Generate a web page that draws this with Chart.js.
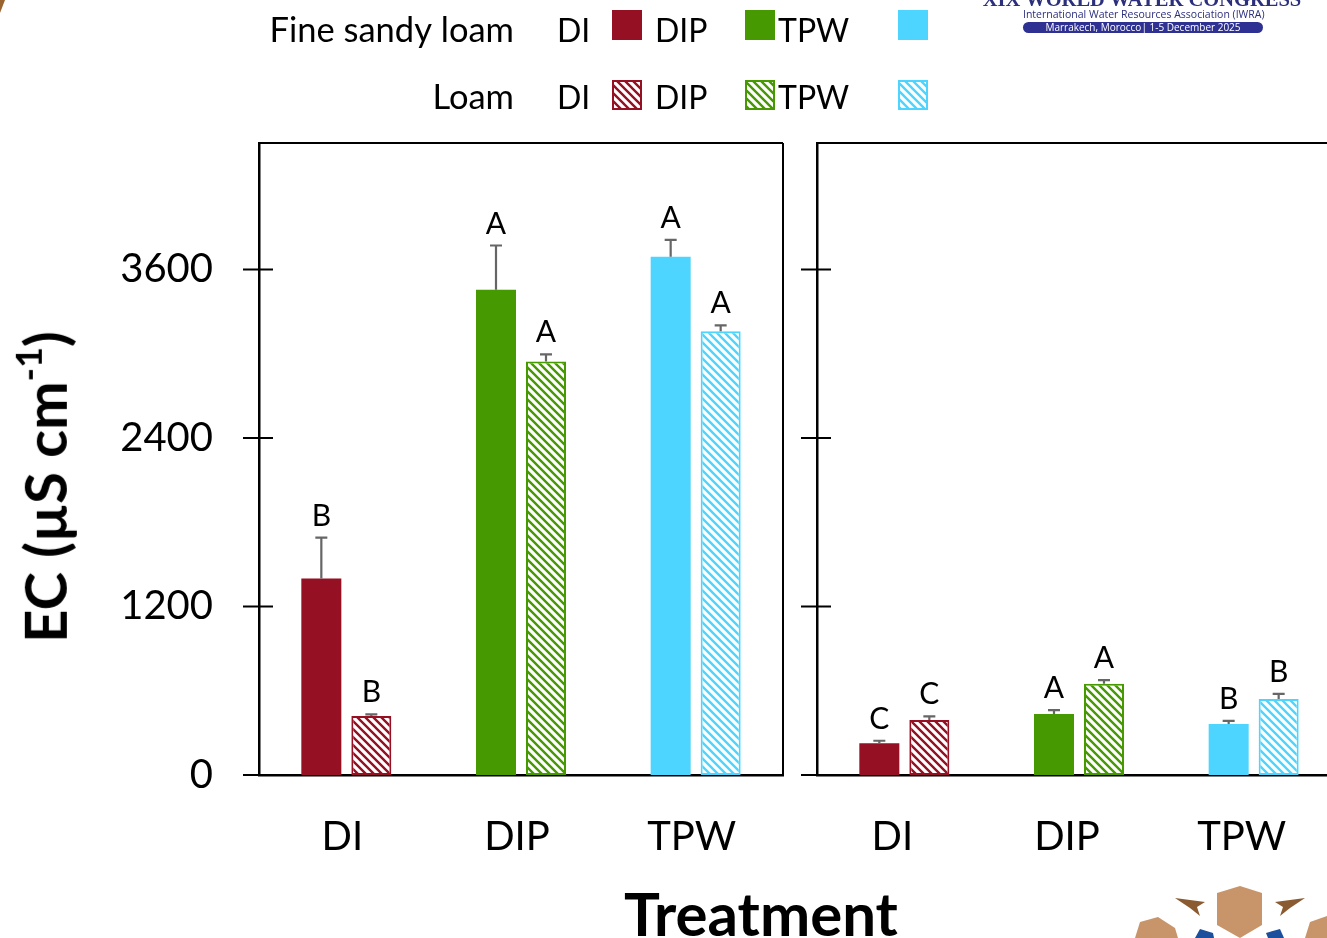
<!DOCTYPE html>
<html>
<head>
<meta charset="utf-8">
<script src="https://cdn.jsdelivr.net/npm/chart.js@4.4.1/dist/chart.umd.min.js"></script>
<style>
  html, body { margin: 0; padding: 0; background: #fff; }
  #page { position: relative; width: 1327px; height: 938px; overflow: hidden; font-family: Lato, "Noto Sans", sans-serif; }
  canvas { position: absolute; top: 0; }
  #left { left: 0; }
  #right { left: 790px; }
  .ytitle { position: absolute; left: 45px; top: 487px; transform: translate(-50%, -50%) rotate(-90deg);
            white-space: nowrap; font-weight: 700; font-size: 58px; color: #000; line-height: 1; }
  .ytitle sup { font-size: 0.62em; position: relative; top: -0.15em; }
  .xtitle { position: absolute; left: 761px; top: 883px; transform: translateX(-50%); white-space: nowrap;
            font-weight: 700; font-size: 60px; line-height: 1; color: #000; }
  .logo1 { position: absolute; left: 977px; top: -12px; width: 330px; text-align: center; white-space: nowrap;
           font-family: "Liberation Serif", serif; font-weight: 700; font-size: 20.5px; color: #2b2f7c; }
  .logo2 { position: absolute; left: 1023px; top: 9px; width: 240px; text-align: center; white-space: nowrap;
           font-family: "Open Sans", sans-serif; font-size: 10.5px; color: #2b2f7c; line-height: 1; }
  .logo3 { position: absolute; left: 1023px; top: 22px; width: 240px; height: 11px; border-radius: 6px; background: #2e3192;
           text-align: center; white-space: nowrap; font-family: "Open Sans", sans-serif; font-size: 10px; color: #fff; line-height: 11px; }
  svg.deco { position: absolute; left: 0; top: 0; }
</style>
</head>
<body>
<div id="page">
  <canvas id="left" width="1327" height="938"></canvas>
  <canvas id="right" width="560" height="938"></canvas>
  <div class="ytitle">EC (µS cm<sup>-1</sup>)</div>
  <div class="xtitle">Treatment</div>
  <div class="logo1">XIX WORLD WATER CONGRESS</div>
  <div class="logo2">International Water Resources Association (IWRA)</div>
  <div class="logo3">Marrakech, Morocco| 1-5 December 2025</div>
  <svg class="deco" width="1327" height="938">
    <polygon points="0,0 5,0 0,13" fill="#9a6431"/>
    <polygon points="1217,893 1240,886 1262,893 1262,925 1240,938 1217,925" fill="#c8956a"/>
    <polygon points="1175,898 1205,902 1197,907 1200,916 1190,908" fill="#8a5a30"/>
    <polygon points="1305,898 1275,902 1283,907 1280,916 1290,908" fill="#8a5a30"/>
    <polygon points="1135,938 1140,922 1158,917 1175,928 1178,938" fill="#c8956a"/>
    <polygon points="1305,938 1310,922 1327,916 1327,938" fill="#c8956a"/>
    <polygon points="1195,938 1200,929 1213,933 1214,938" fill="#1c4f9c"/>
    <polygon points="1268,938 1266,933 1280,929 1284,938" fill="#1c4f9c"/>
  </svg>
</div>
<script>
// Treatments on the x axis and the y tick values
const treatments = ['DI', 'DIP', 'TPW'];
const yTicks = [0, 1200, 2400, 3600];
const yMax = 4500;

// Soil textures shown in the legend
const soilTypes = ['Fine sandy loam', 'Loam'];

// Left panel: mean EC, standard error and significance letters
const leftFineSandy    = [1400, 3455, 3690];
const leftFineSandyErr = [290, 315, 120];
const leftFineSandySig = ['B', 'A', 'A'];
const leftLoam         = [420, 2945, 3160];
const leftLoamErr      = [12, 50, 42];
const leftLoamSig      = ['B', 'A', 'A'];

// Right panel
const rightFineSandy    = [226, 434, 363];
const rightFineSandyErr = [18, 28, 23];
const rightFineSandySig = ['C', 'A', 'B'];
const rightLoam         = [391, 650, 541];
const rightLoamErr      = [26, 26, 37];
const rightLoamSig      = ['C', 'A', 'B'];

// Treatment colours
const treatmentColors = ['#941022', '#469900', '#4dd5ff'];

function hatch(color) {
  const s = 8;
  const c = document.createElement('canvas');
  c.width = s; c.height = s;
  const g = c.getContext('2d');
  g.fillStyle = '#fff';
  g.fillRect(0, 0, s, s);
  g.strokeStyle = color;
  g.lineWidth = 2.4;
  g.beginPath();
  g.moveTo(-2, -2); g.lineTo(s + 2, s + 2);
  g.moveTo(-2, s - 2); g.lineTo(2, s + 2);
  g.moveTo(s - 2, -2); g.lineTo(s + 2, 2);
  g.stroke();
  return g.createPattern(c, 'repeat');
}
const hatchFills = treatmentColors.map(hatch);

const FONT = 'Lato, "Noto Sans", sans-serif';

// Error bars (upper whisker only) and significance letters above each bar
const errorBarPlugin = {
  id: 'errorBars',
  afterDatasetsDraw(chart) {
    const ctx = chart.ctx;
    const y = chart.scales.y;
    ctx.save();
    chart.data.datasets.forEach((ds, di) => {
      const meta = chart.getDatasetMeta(di);
      meta.data.forEach((bar, i) => {
        const v = ds.data[i];
        const top = y.getPixelForValue(v + ds.err[i]);
        ctx.strokeStyle = '#666';
        ctx.lineWidth = 2.2;
        ctx.beginPath();
        ctx.moveTo(bar.x, bar.y);
        ctx.lineTo(bar.x, top);
        ctx.moveTo(bar.x - 6, top);
        ctx.lineTo(bar.x + 6, top);
        ctx.stroke();
        ctx.fillStyle = '#000';
        ctx.font = '30px ' + FONT;
        ctx.textAlign = 'center';
        ctx.textBaseline = 'alphabetic';
        ctx.fillText(ds.sig[i], bar.x, top - 12);
      });
    });
    ctx.restore();
  }
};

// Panel frame and y ticks that cross the axis line
const framePlugin = {
  id: 'panelFrame',
  afterDraw(chart, args, opts) {
    const { ctx, chartArea: a } = chart;
    const y = chart.scales.y;
    ctx.save();
    ctx.strokeStyle = '#000';
    ctx.lineWidth = 2;
    ctx.beginPath();
    ctx.moveTo(a.left, a.top);
    ctx.lineTo(a.right, a.top);
    if (opts.right) {
      ctx.moveTo(a.right, a.top);
      ctx.lineTo(a.right, a.bottom);
    }
    yTicks.forEach(v => {
      const p = y.getPixelForValue(v);
      ctx.moveTo(a.left - 16, p);
      ctx.lineTo(a.left + 14, p);
    });
    ctx.stroke();
    ctx.restore();
  }
};

// Two-row legend: soil texture, then a swatch per treatment
const legendPlugin = {
  id: 'soilLegend',
  afterDraw(chart, args, opts) {
    if (!opts.show) return;
    const ctx = chart.ctx;
    ctx.save();
    ctx.fillStyle = '#000';
    ctx.textBaseline = 'alphabetic';
    const rows = [{ base: 42, box: 10 }, { base: 109, box: 80 }];
    const labelX = [557, 655, 778];
    const boxX = [612, 745, 898];
    soilTypes.forEach((soil, r) => {
      ctx.font = '34.5px ' + FONT;
      ctx.textAlign = 'right';
      ctx.fillStyle = '#000';
      ctx.fillText(soil, 514, rows[r].base);
      ctx.font = '32px ' + FONT;
      ctx.textAlign = 'left';
      treatments.forEach((t, i) => {
        ctx.fillStyle = '#000';
        ctx.fillText(t, labelX[i], rows[r].base);
        if (r === 0) {
          ctx.fillStyle = treatmentColors[i];
          ctx.fillRect(boxX[i], rows[r].box, 30, 30);
        } else {
          ctx.fillStyle = hatchFills[i];
          ctx.fillRect(boxX[i], rows[r].box, 30, 30);
          ctx.strokeStyle = treatmentColors[i];
          ctx.lineWidth = 2;
          ctx.strokeRect(boxX[i] + 1, rows[r].box + 1, 28, 28);
        }
      });
    });
    ctx.restore();
  }
};

function makeDatasets(fine, fineErr, fineSig, loam, loamErr, loamSig) {
  return [
    { label: soilTypes[0], data: fine, err: fineErr, sig: fineSig,
      backgroundColor: treatmentColors, borderWidth: 0,
      categoryPercentage: 0.5725, barPercentage: 0.8 },
    { label: soilTypes[1], data: loam, err: loamErr, sig: loamSig,
      backgroundColor: hatchFills, borderColor: treatmentColors, borderWidth: 2, borderSkipped: false,
      categoryPercentage: 0.5725, barPercentage: 0.8 }
  ];
}

function makeOptions(cfg) {
  return {
    responsive: false,
    animation: false,
    layout: { padding: cfg.padding },
    plugins: {
      legend: { display: false },
      tooltip: { enabled: false },
      panelFrame: { right: cfg.frameRight },
      soilLegend: { show: cfg.legend }
    },
    scales: {
      x: {
        grid: { display: false, drawTicks: false },
        border: { display: true, color: '#000', width: 2.5 },
        ticks: { color: '#000', font: { family: FONT, size: 40 }, padding: 38, labelOffset: cfg.labelShift },
        afterFit(s) { s.height = 163; }
      },
      y: {
        min: 0, max: yMax,
        grid: { display: false, drawTicks: false },
        border: { display: true, color: '#000', width: 2.5 },
        ticks: { display: cfg.yLabels, color: '#000', font: { family: FONT, size: 40 }, padding: 46,
                 callback: v => String(v) },
        afterBuildTicks(s) { s.ticks = yTicks.map(v => ({ value: v })); },
        afterFit(s) { s.width = cfg.yWidth; }
      }
    }
  };
}

new Chart(document.getElementById('left'), {
  type: 'bar',
  data: { labels: treatments,
          datasets: makeDatasets(leftFineSandy, leftFineSandyErr, leftFineSandySig, leftLoam, leftLoamErr, leftLoamSig) },
  options: makeOptions({ padding: { left: 0, top: 143, right: 544, bottom: 0 }, yWidth: 259, yLabels: true,
                         frameRight: true, legend: true, labelShift: -4 }),
  plugins: [errorBarPlugin, framePlugin, legendPlugin]
});

new Chart(document.getElementById('right'), {
  type: 'bar',
  data: { labels: treatments,
          datasets: makeDatasets(rightFineSandy, rightFineSandyErr, rightFineSandySig, rightLoam, rightLoamErr, rightLoamSig) },
  options: makeOptions({ padding: { left: 0, top: 143, right: 9, bottom: 0 }, yWidth: 27, yLabels: false,
                         frameRight: false, legend: false, labelShift: -12 }),
  plugins: [errorBarPlugin, framePlugin, legendPlugin]
});
</script>
</body>
</html>
